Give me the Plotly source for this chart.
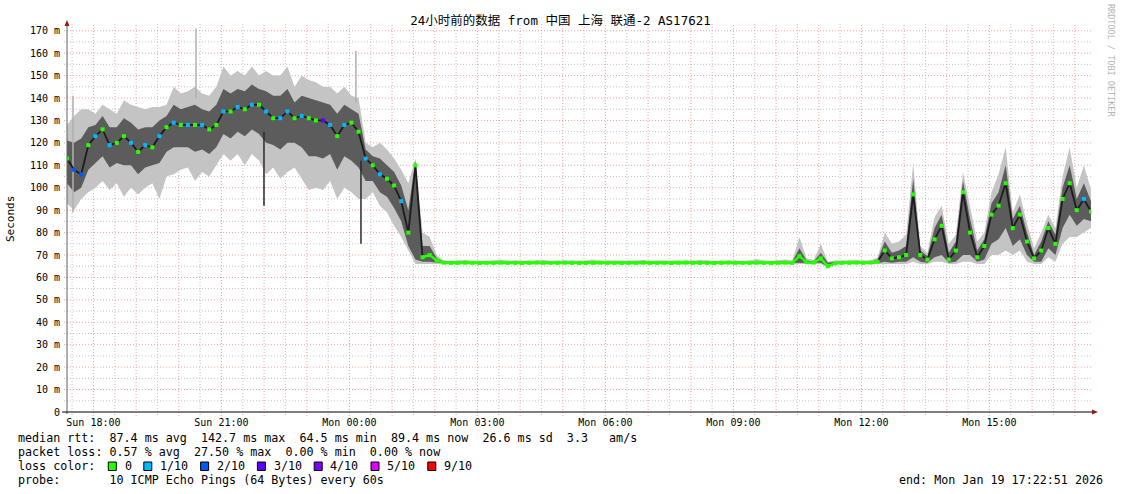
import pandas as pd
import plotly.graph_objects as go

# ---------------- data ----------------
START = "2026-01-18 17:22:51"
END = "2026-01-19 17:22:51"
STEP = "10min"

median_rtt = [
    113, 108, 106, 119, 123, 126, 119, 120, 123, 120,
    116, 119, 118, 123, 127, 129, 128, 128, 128, 128,
    126, 128, 134, 134, 136, 135, 137, 137, 134, 131,
    131, 134, 131, 132, 131, 130, 130, 128, 123, 128,
    129, 125, 113, 110, 106, 104, 101, 94, 80, 110,
    69, 70, 67.5, 66.6, 66.5, 66.5, 66.6, 66.5, 66.4, 66.5,
    66.5, 66.6, 66.5, 66.5, 66.4, 66.5, 66.6, 66.5, 66.5, 66.5,
    66.6, 66.5, 66.4, 66.5, 66.5, 66.6, 66.5, 66.5, 66.4, 66.5,
    66.5, 66.6, 66.5, 66.5, 66.5, 66.4, 66.5, 66.6, 66.5, 66.5,
    66.5, 66.4, 66.5, 66.6, 66.5, 66.5, 66.5, 66.6, 66.5, 66.4,
    66.5, 66.6, 66.5, 69.5, 66.8, 66.6, 68.5, 65.0, 66.3, 66.5,
    66.5, 66.6, 66.5, 66.6, 67, 72, 68.5, 69, 70, 97,
    70, 68, 77, 83, 68, 72, 98, 80, 69, 74,
    88, 92, 102, 82, 88, 76, 68.5, 72, 82, 75,
    95, 102, 90, 95, 89.4,
]

smoke_hi = [
    128, 132, 135, 135, 133, 137, 135, 133, 139, 137,
    136, 135, 136, 136, 137, 145, 142, 143, 145, 142,
    141, 145, 154, 150, 152, 150, 154, 150, 152, 150,
    150, 154, 145, 150, 148, 147, 145, 145, 142, 145,
    141, 140, 120, 118, 120, 117, 113, 108, 102, 113,
    80, 78, 70, 67.6, 67.4, 67.5, 67.8, 67.4, 67.5, 67.4,
    67.5, 68, 67.4, 67.5, 67.4, 67.6, 67.5, 67.8, 67.4, 67.5,
    67.4, 67.5, 67.6, 67.5, 68, 67.4, 67.5, 67.5, 67.6, 67.4,
    67.5, 67.8, 67.4, 67.5, 67.5, 67.4, 67.6, 67.5, 67.5, 67.8,
    67.5, 67.4, 67.5, 67.6, 67.5, 67.4, 67.5, 68.2, 67.5, 67.4,
    67.6, 68, 67.5, 78, 68.5, 67.8, 75, 67, 67.5, 67.6,
    67.5, 67.8, 67.5, 67.5, 69, 80, 75, 76, 79, 111,
    74, 71, 87, 92, 75, 79, 107, 91, 76, 80,
    98, 106, 118, 89, 97, 84, 73, 80, 88, 82,
    105, 118, 100, 110, 99,
]

smoke_lo = [
    93, 90, 95, 98, 100, 103, 99, 102, 96, 100,
    97, 100, 102, 95, 105, 106, 108, 109, 103, 107,
    105, 110, 115, 112, 115, 110, 115, 112, 106, 109,
    104, 107, 109, 104, 99, 100, 99, 103, 95, 100,
    98, 95, 95, 98, 92, 89, 83, 78, 72, 66,
    66, 66, 66, 65.9, 66, 66, 65.9, 66, 66, 66,
    66, 65.9, 66, 66, 66, 65.9, 66, 66, 66, 66,
    65.9, 66, 66, 66, 65.9, 66, 66, 66, 66, 65.9,
    66, 66, 65.9, 66, 66, 66, 66, 65.9, 66, 66,
    66, 65.9, 66, 66, 66, 66, 65.9, 66, 66, 66,
    66, 66, 66, 66, 66, 66, 66, 64.5, 65.8, 66,
    66, 66, 66, 66, 66, 66, 66, 66, 66, 67,
    66, 66, 67, 67, 66, 66, 67, 67, 66, 66,
    70, 70, 72, 70, 72, 67, 66, 66, 69, 67,
    75, 78, 78, 80, 82,
]

core_hi = [
    121, 120, 122, 127, 128, 132, 127, 127, 131, 129,
    126, 127, 127, 130, 132, 137, 135, 136, 137, 135,
    134, 137, 144, 142, 144, 143, 146, 144, 143, 141,
    141, 144, 138, 141, 140, 139, 138, 137, 133, 137,
    135, 133, 117, 114, 113, 110, 107, 101, 90, 112,
    74, 74, 68.5, 67, 67, 67, 67, 67, 67, 67,
    67, 67, 67, 67, 67, 67, 67, 67, 67, 67,
    67, 67, 67, 67, 67, 67, 67, 67, 67, 67,
    67, 67, 67, 67, 67, 67, 67, 67, 67, 67,
    67, 67, 67, 67, 67, 67, 67, 67, 67, 67,
    67, 67, 67, 73, 67.5, 67, 71, 66.5, 67, 67,
    67, 67, 67, 67, 68, 76, 71, 72, 74, 104,
    72, 69.5, 82, 88, 71, 76, 103, 86, 72, 77,
    93, 98, 110, 86, 92, 80, 70, 76, 85, 79,
    100, 110, 95, 102, 94,
]

core_lo = [
    102, 98, 100, 108, 111, 114, 109, 111, 110, 110,
    106, 109, 110, 111, 116, 118, 118, 118, 116, 117,
    115, 118, 124, 122, 125, 123, 126, 124, 120, 119,
    117, 120, 120, 118, 114, 114, 113, 115, 108, 114,
    112, 109, 103, 103, 98, 96, 91, 85, 74, 68,
    67, 67, 66.5, 66.2, 66.2, 66.2, 66.2, 66.2, 66.2, 66.2,
    66.2, 66.2, 66.2, 66.2, 66.2, 66.2, 66.2, 66.2, 66.2, 66.2,
    66.2, 66.2, 66.2, 66.2, 66.2, 66.2, 66.2, 66.2, 66.2, 66.2,
    66.2, 66.2, 66.2, 66.2, 66.2, 66.2, 66.2, 66.2, 66.2, 66.2,
    66.2, 66.2, 66.2, 66.2, 66.2, 66.2, 66.2, 66.2, 66.2, 66.2,
    66.2, 66.2, 66.2, 66.5, 66.2, 66.2, 66.5, 64.8, 66, 66.2,
    66.2, 66.2, 66.2, 66.2, 66.3, 67, 66.5, 67, 67, 69,
    67, 66.5, 69, 70, 66.5, 67, 70, 70, 67, 68,
    75, 77, 82, 74, 77, 70, 67, 67, 73, 70,
    82, 88, 83, 86, 85,
]

# index into loss_colors for each median sample
loss_level = [
    0, 2, 2, 0, 1, 0, 1, 0, 0, 1,
    0, 1, 0, 1, 0, 1, 0, 1, 0, 1,
    0, 0, 1, 0, 1, 0, 1, 0, 1, 0,
    1, 1, 0, 1, 0, 0, 3, 1, 0, 1,
    0, 0, 1, 0, 1, 0, 0, 1, 0, 0,
    0, 0, 0, 0, 0, 0, 0, 0, 0, 0,
    0, 0, 0, 0, 0, 0, 0, 0, 0, 0,
    0, 0, 0, 0, 0, 0, 0, 0, 0, 0,
    0, 0, 0, 0, 0, 0, 0, 0, 0, 0,
    0, 0, 0, 0, 0, 0, 0, 0, 0, 0,
    0, 0, 0, 0, 0, 0, 0, 0, 0, 0,
    0, 0, 0, 0, 0, 0, 0, 0, 0, 0,
    0, 0, 0, 0, 0, 0, 0, 0, 0, 0,
    0, 0, 0, 0, 0, 0, 0, 0, 0, 0,
    0, 0, 0, 1, 0,
]

# isolated single-sample outliers
spike_time = ["2026-01-18 17:31:15", "2026-01-18 20:24:15", "2026-01-18 21:59:51",
              "2026-01-19 00:09:09", "2026-01-19 00:16:15"]
spike_lo = [89, 140, 92, 138, 75]
spike_hi = [141, 171, 125, 161, 112]
spike_dark = [False, False, True, False, True]

x_tick_labels = ["Sun 18:00", "Sun 21:00", "Mon 00:00", "Mon 03:00",
                 "Mon 06:00", "Mon 09:00", "Mon 12:00", "Mon 15:00"]
y_tick_vals = [0, 10, 20, 30, 40, 50, 60, 70, 80, 90, 100, 110, 120, 130, 140, 150, 160, 170]
y_tick_text = ["0", "10 m", "20 m", "30 m", "40 m", "50 m", "60 m", "70 m", "80 m", "90 m",
               "100 m", "110 m", "120 m", "130 m", "140 m", "150 m", "160 m", "170 m"]
y_minor_vals = [5, 15, 25, 35, 45, 55, 65, 75, 85, 95, 105, 115, 125, 135, 145, 155, 165]

loss_labels = ["0", "1/10", "2/10", "3/10", "4/10", "5/10", "9/10"]
loss_colors = ["#26ff00", "#00b8ff", "#0059ff", "#5e00ff", "#7e00ff", "#dd00ff", "#ff0000"]

title_text = "24小时前的数据 from 中国 上海 联通-2 AS17621"
line_rtt = "median rtt:  87.4 ms avg  142.7 ms max  64.5 ms min  89.4 ms now  26.6 ms sd  3.3   am/s"
line_loss = "packet loss: 0.57 % avg  27.50 % max  0.00 % min  0.00 % now"
line_probe = "probe:       10 ICMP Echo Pings (64 Bytes) every 60s"
line_end = "end: Mon Jan 19 17:22:51 2026"

# ---------------- figure ----------------
times = pd.date_range(START, END, freq=STEP)

W_PX, H_PX = 1121, 494
L, T, R, B = 67, 24, 30, 82
PW, PH = W_PX - L - R, H_PX - T - B


def px(xp):
    return (xp - L) / PW


def py(yp):
    return (T + PH - yp) / PH


MONO = "DejaVu Sans Mono, Noto Sans CJK SC, monospace"
OUTER = "#c4c4c4"
CORE = "#5c5c5c"

fig = go.Figure()

# outer smoke
fig.add_trace(go.Scatter(x=times, y=smoke_lo, mode="lines", line=dict(width=0),
                         showlegend=False, hoverinfo="skip"))
fig.add_trace(go.Scatter(x=times, y=smoke_hi, mode="lines", line=dict(width=0),
                         fill="tonexty", fillcolor=OUTER, showlegend=False, hoverinfo="skip"))
# inner smoke
fig.add_trace(go.Scatter(x=times, y=core_lo, mode="lines", line=dict(width=0),
                         showlegend=False, hoverinfo="skip"))
fig.add_trace(go.Scatter(x=times, y=core_hi, mode="lines", line=dict(width=0),
                         fill="tonexty", fillcolor=CORE, showlegend=False, hoverinfo="skip"))

# outlier spikes
for dark in (False, True):
    xs, ys = [], []
    for t, lo, hi, d in zip(spike_time, spike_lo, spike_hi, spike_dark):
        if d == dark:
            xs += [t, t, None]
            ys += [lo, hi, None]
    fig.add_trace(go.Scatter(x=xs, y=ys, mode="lines",
                             line=dict(width=1.5, color="#2a2a2a" if dark else "#b0b0b0"),
                             showlegend=False, hoverinfo="skip"))

# median: dark core line
fig.add_trace(go.Scatter(x=times, y=median_rtt, mode="lines",
                         line=dict(width=1.8, color="#1c1c1c"),
                         showlegend=False, hoverinfo="skip"))
# median green line over the quiet period
fig.add_trace(go.Scatter(x=times[50:115], y=median_rtt[50:115], mode="lines",
                         line=dict(width=2.6, color=loss_colors[0]),
                         showlegend=False, hoverinfo="skip"))
# median markers coloured by loss
fig.add_trace(go.Scatter(x=times, y=median_rtt, mode="markers",
                         marker=dict(symbol="square", size=4,
                                     color=[loss_colors[k] for k in loss_level],
                                     line=dict(width=0)),
                         showlegend=False, hoverinfo="skip"))

# hourly ticks, labelled every third hour
hours = pd.date_range("2026-01-18 18:00", "2026-01-19 17:00", freq="h")
half_hours = pd.date_range("2026-01-18 17:30", "2026-01-19 16:30", freq="h")
lab_iter = iter(x_tick_labels)
hour_text = [next(lab_iter) if h.hour % 3 == 0 else "" for h in hours]

RED_GRID = "rgba(240,130,130,0.75)"
GREY_GRID = "rgba(180,180,180,0.8)"
DOT = "1px,2px"

fig.update_layout(
    width=W_PX, height=H_PX,
    margin=dict(l=L, r=R, t=T, b=B, pad=0),
    paper_bgcolor="white", plot_bgcolor="white",
    hovermode=False,
    font=dict(family=MONO, size=10, color="#000"),
    title=dict(text=title_text, x=0.5, xref="container", xanchor="center",
               y=1 - 21 / H_PX, yref="container", yanchor="middle",
               font=dict(family=MONO, size=12.5, color="#000")),
    xaxis=dict(
        type="date", range=[START, END],
        tickmode="array", tickvals=hours, ticktext=hour_text,
        showgrid=False, ticks="outside", ticklen=1, tickcolor="rgba(0,0,0,0)",
        tickfont=dict(family=MONO, size=10, color="#000"),
        showline=False, zeroline=False,
    ),
    yaxis=dict(
        range=[0, 173],
        tickmode="array", tickvals=y_tick_vals, ticktext=y_tick_text,
        showgrid=False, ticks="outside", ticklen=4, tickcolor="rgba(0,0,0,0)",
        tickfont=dict(family=MONO, size=10, color="#000"),
        showline=False, zeroline=False,
    ),
)

shapes = []
# grid lines
for t in half_hours:
    shapes.append(dict(type="line", xref="x", yref="paper", x0=t, x1=t, y0=py(415), y1=1,
                       layer="below", line=dict(color=GREY_GRID, width=1, dash=DOT)))
for t in hours:
    shapes.append(dict(type="line", xref="x", yref="paper", x0=t, x1=t, y0=py(416), y1=1,
                       layer="below", line=dict(color=RED_GRID, width=1, dash=DOT)))
for v in y_minor_vals:
    shapes.append(dict(type="line", xref="paper", yref="y", x0=px(64), x1=px(1093), y0=v, y1=v,
                       layer="below", line=dict(color=GREY_GRID, width=1, dash=DOT)))
for v in y_tick_vals[1:]:
    shapes.append(dict(type="line", xref="paper", yref="y", x0=px(64), x1=px(1093), y0=v, y1=v,
                       layer="below", line=dict(color=RED_GRID, width=1, dash=DOT)))

# y axis line with arrow
shapes.append(dict(type="line", xref="paper", yref="paper",
                   x0=px(67), x1=px(67), y0=py(414), y1=py(24),
                   line=dict(color="#606060", width=1)))
shapes.append(dict(type="path", xref="paper", yref="paper",
                   path=f"M {px(64.5)} {py(26)} L {px(69.5)} {py(26)} L {px(67)} {py(20)} Z",
                   fillcolor="#8b1e1e", line=dict(width=0)))
# x axis line with arrow
shapes.append(dict(type="line", xref="paper", yref="paper",
                   x0=px(62), x1=px(1094), y0=py(412), y1=py(412),
                   line=dict(color="#000000", width=1)))
shapes.append(dict(type="path", xref="paper", yref="paper",
                   path=f"M {px(1092)} {py(409.5)} L {px(1092)} {py(414.5)} L {px(1098)} {py(412)} Z",
                   fillcolor="#8b1e1e", line=dict(width=0)))

# loss colour boxes
CH = 7.1
box_idx = [13, 18, 26, 34, 42, 50, 58]
for k, idx in enumerate(box_idx):
    x0 = 16 + idx * CH
    shapes.append(dict(type="rect", xref="paper", yref="paper",
                       x0=px(x0), x1=px(x0 + 8), y0=py(470.5), y1=py(462),
                       fillcolor=loss_colors[k], line=dict(color="#000", width=1)))
fig.update_layout(shapes=shapes)

ann = []
TXT = dict(family=MONO, size=11.7, color="#000")


def text(s, xp, yp, anchor="left", **kw):
    ann.append(dict(text=s, x=px(xp), y=py(yp), xref="paper", yref="paper",
                    xanchor=anchor, yanchor="middle", showarrow=False,
                    font=kw.get("font", TXT), textangle=kw.get("angle", 0)))


text("Seconds", 10, 219, anchor="center", angle=-90, font=dict(family=MONO, size=11, color="#000"))
text("RRDTOOL / TOBI OETIKER", 1111, 60, anchor="center", angle=90,
     font=dict(family=MONO, size=8.5, color="#b4b4b4"))
text(line_rtt, 16, 438)
text(line_loss, 16, 452)
text("loss color:", 16, 466)
for k, idx in enumerate(box_idx):
    text(loss_labels[k], 16 + (idx + 2) * CH, 466)
text(line_probe, 16, 480)
text(line_end, 1105, 480, anchor="right")
fig.update_layout(annotations=ann)

fig.write_html("out.html", config={"displayModeBar": False},
               post_script="document.body.style.margin='0';document.body.style.overflow='hidden';")
